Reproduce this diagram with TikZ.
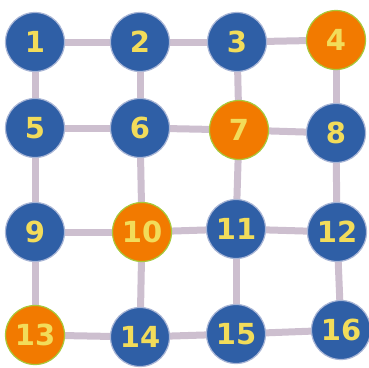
\documentclass[tikz,border=0pt]{standalone}
\usepackage{fontspec}
\setmainfont{DejaVu Sans}
\usetikzlibrary{backgrounds}
\definecolor{nblue}{HTML}{2F5FA6}
\definecolor{norange}{HTML}{F27A00}
\definecolor{ntext}{HTML}{F2DC5A}
\definecolor{nedge}{HTML}{CDBFCF}
\definecolor{bring}{HTML}{A9B6D6}
\definecolor{oring}{HTML}{A8C83A}
\begin{document}
\begin{tikzpicture}[x=1pt,y=-1pt,
  vtx/.style={circle,minimum size=59pt,inner sep=0pt,line width=1.2pt,
    font=\fontsize{29}{29}\selectfont\bfseries,text=ntext},
  bv/.style={vtx,fill=nblue,draw=bring},
  ov/.style={vtx,fill=norange,draw=oring},
  link/.style={draw=nedge,line width=7pt}]
\useasboundingbox (0,0) rectangle (369,367);
\node[bv] (n1) at (35,42) {1};
\node[bv] (n2) at (140,42) {2};
\node[bv] (n3) at (237,42) {3};
\node[ov] (n4) at (336,40) {4};
\node[bv] (n5) at (35,128) {5};
\node[bv] (n6) at (140,128) {6};
\node[ov] (n7) at (239,130) {7};
\node[bv] (n8) at (336,133) {8};
\node[bv] (n9) at (35,232) {9};
\node[ov] (n10) at (142,232) {10};
\node[bv] (n11) at (236,229) {11};
\node[bv] (n12) at (337,232) {12};
\node[ov] (n13) at (35,335) {13};
\node[bv] (n14) at (140,337) {14};
\node[bv] (n15) at (236,334) {15};
\node[bv] (n16) at (341,330) {16};
\begin{scope}[on background layer]
\foreach \a/\b in {1/2,2/3,3/4,5/6,6/7,7/8,9/10,10/11,11/12,13/14,14/15,15/16,
  1/5,5/9,9/13,2/6,6/10,10/14,3/7,7/11,11/15,4/8,8/12,12/16}
  \draw[link] (n\a.center) -- (n\b.center);
\end{scope}
\end{tikzpicture}
\end{document}
